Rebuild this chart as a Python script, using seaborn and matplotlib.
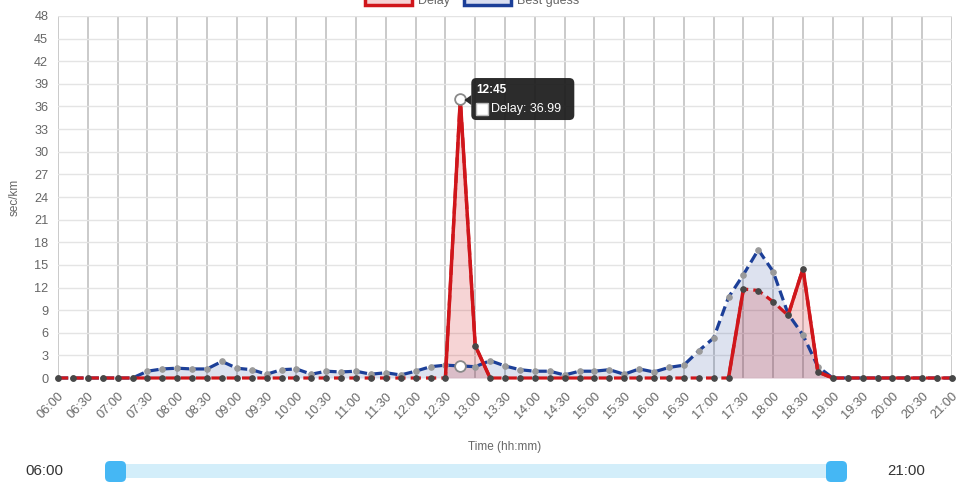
import matplotlib
matplotlib.use("Agg")
import matplotlib.pyplot as plt
from matplotlib.patches import FancyBboxPatch, Rectangle, Polygon
from matplotlib.transforms import IdentityTransform
import pandas as pd
import seaborn as sns

# 15-minute slots from 06:00 to 21:00
times = [f"{h:02d}:{m:02d}" for h in range(6, 21) for m in (0, 15, 30, 45)] + ["21:00"]

delay = [
    0, 0, 0, 0,          # 06
    0, 0, 0, 0,          # 07
    0, 0, 0, 0,          # 08
    0, 0, 0, 0,          # 09
    0, 0, 0, 0,          # 10
    0, 0, 0, 0,          # 11
    0, 0, 0, 36.99,      # 12
    4.3, 0, 0, 0,        # 13
    0, 0, 0, 0,          # 14
    0, 0, 0, 0,          # 15
    0, 0, 0, 0,          # 16
    0, 0, 11.8, 11.6,    # 17
    10.1, 8.3, 14.5, 0.8,  # 18
    0, 0, 0, 0,          # 19
    0, 0, 0, 0,          # 20
    0,                   # 21
]

best_guess = [
    0, 0, 0, 0,
    0, 0, 0.9, 1.2,
    1.3, 1.2, 1.2, 2.2,
    1.3, 1.1, 0.5, 1.1,
    1.2, 0.5, 0.9, 0.8,
    0.9, 0.5, 0.7, 0.4,
    0.9, 1.5, 1.7, 1.6,
    1.5, 2.3, 1.6, 1.1,
    0.9, 0.9, 0.4, 0.9,
    0.9, 1.1, 0.5, 1.2,
    0.8, 1.4, 1.7, 3.6,
    5.3, 10.7, 13.7, 17.0,
    14.1, 8.5, 5.7, 1.5,
    0, 0, 0, 0,
    0, 0, 0, 0,
    0,
]

# spans where the Delay line is drawn solid (elsewhere dashed)
solid_spans = [("12:30", "13:15"), ("17:15", "17:30"), ("18:15", "19:00")]
hover_time = "12:45"

RED = "#d0161b"
BLUE = "#1c3f98"
GRAY_TXT = "#666666"

df = pd.DataFrame({"time": times, "Delay": delay, "Best guess": best_guess})
df["minute"] = [times.index(t) * 15 for t in times]

sns.set_style("white")
plt.rcParams["font.family"] = ["Liberation Sans", "DejaVu Sans"]

fig = plt.figure(figsize=(9.6, 4.86), dpi=100)
ax = fig.add_axes([58 / 960, 1 - 378 / 486, (952 - 58) / 960, (378 - 16) / 486])

# area fills
ax.fill_between(df["minute"], df["Best guess"], color=BLUE, alpha=0.15, lw=0, zorder=2)
ax.fill_between(df["minute"], df["Delay"], color=RED, alpha=0.18, lw=0, zorder=2)

# best guess: dashed blue with grey points
sns.lineplot(data=df, x="minute", y="Best guess", ax=ax, color=BLUE, lw=2.3,
             linestyle=(0, (3.2, 1.6)), marker="o", markersize=4,
             markerfacecolor="#9a9a9a", markeredgecolor="#9a9a9a", zorder=3)

# delay: solid red where it rises/falls, dashed elsewhere
for a, b in solid_spans:
    seg = df[(df["time"] >= a) & (df["time"] <= b)]
    sns.lineplot(data=seg, x="minute", y="Delay", ax=ax, color=RED, lw=2.5, zorder=4)
sns.lineplot(data=df, x="minute", y="Delay", ax=ax, color=RED, lw=2.3,
             linestyle=(0, (3.2, 1.6)), marker="o", markersize=4,
             markerfacecolor="#474747", markeredgecolor="#474747", zorder=5)

# hovered points
hov = df[df["time"] == hover_time]
for col in ["Best guess", "Delay"]:
    sns.scatterplot(data=hov, x="minute", y=col, ax=ax, s=60, color="white",
                    edgecolor="#8a8a8a", linewidth=1.3, zorder=6, legend=False)

for ln in ax.lines:
    ln.set_clip_on(False)
for c in ax.collections:
    c.set_clip_on(False)

ax.set_xlim(0, 900)
ax.set_ylim(0, 48)
ax.set_xticks(df["minute"][::2])
ax.set_xticklabels(df["time"][::2], rotation=45, ha="right", rotation_mode="anchor")
ax.set_yticks(range(0, 49, 3))
ax.tick_params(axis="x", length=5, color="#c9c9c9", pad=4, labelsize=9.2, labelcolor=GRAY_TXT)
ax.tick_params(axis="y", length=0, pad=7, labelsize=9.2, labelcolor=GRAY_TXT)
ax.grid(axis="y", color="#e4e4e4", lw=1.0, zorder=0)
ax.grid(axis="x", color="#c6c6c6", lw=1.3, zorder=0)
ax.set_axisbelow(True)
for s in ax.spines.values():
    s.set_visible(False)

ax.set_xlabel("Time (hh:mm)", fontsize=8.5, color=GRAY_TXT, labelpad=14)
ax.set_ylabel("sec/km", fontsize=8.5, color=GRAY_TXT, labelpad=10)

# tooltip anchored to the hovered Delay point
px, py = ax.transData.transform((hov["minute"].iloc[0], hov["Delay"].iloc[0]))
ident = IdentityTransform()
fig.add_artist(FancyBboxPatch((px + 11, py - 21), 103, 42,
                              boxstyle="round,pad=0,rounding_size=5",
                              fc="#1c1c1c", ec="none", alpha=0.93, transform=ident))
fig.add_artist(Polygon([(px + 11, py + 4), (px + 4, py - 1), (px + 11, py - 6)],
                       closed=True, fc="#1c1c1c", ec="none", alpha=0.93, transform=ident))
fig.text(px + 16, py + 9, hover_time, color="white", fontsize=8.5, fontweight="bold",
         va="center", ha="left", transform=ident)
fig.add_artist(Rectangle((px + 16, py - 16), 12, 12, fc="white", ec="#bbbbbb",
                         lw=1, transform=ident))
fig.text(px + 31, py - 10, f"Delay: {hov['Delay'].iloc[0]:.2f}", color="white",
         fontsize=9, va="center", ha="left", transform=ident)

# legend cut at the top edge, as in the reference
fig.add_artist(Rectangle((365, 481), 47, 16, fc="#f6d3d4", ec=RED, lw=2.5, transform=ident))
fig.text(418, 482.5, "Delay", color=GRAY_TXT, fontsize=9, va="baseline", transform=ident)
fig.add_artist(Rectangle((464, 481), 47, 16, fc="#d9def0", ec=BLUE, lw=2.5, transform=ident))
fig.text(517, 482.5, "Best guess", color=GRAY_TXT, fontsize=9, va="baseline", transform=ident)

# range slider below the chart
fig.add_artist(FancyBboxPatch((110, 8), 728, 14, boxstyle="round,pad=0,rounding_size=3",
                              fc="#d3eefa", ec="none", transform=ident))
for hx in (105, 826):
    fig.add_artist(FancyBboxPatch((hx, 4), 21, 21, boxstyle="round,pad=0,rounding_size=5",
                                  fc="#45b7f4", ec="none", transform=ident))
fig.text(44, 15, times[0], color="#333333", fontsize=10.8, ha="center", va="center",
         transform=ident)
fig.text(906, 15, times[-1], color="#333333", fontsize=10.8, ha="center", va="center",
         transform=ident)

fig.savefig("out.png", dpi=100)
